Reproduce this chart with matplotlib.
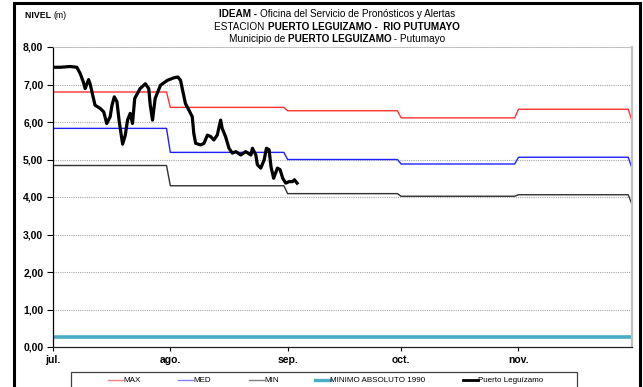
import matplotlib
matplotlib.use("Agg")
import matplotlib.pyplot as plt
from matplotlib.lines import Line2D
from matplotlib.patches import Rectangle

plt.rcParams['font.family'] = ['Liberation Sans', 'DejaVu Sans']

# ---- data ----
month_labels = ["jul.", "ago.", "sep.", "oct.", "nov."]
month_starts = [0, 31, 62, 92, 123, 153]          # days since 1 Jul (last = 1 Dec)
max_vals = [6.80, 6.39, 6.30, 6.11, 6.34, 6.03]
med_vals = [5.83, 5.19, 5.00, 4.88, 5.06, 4.77]
min_vals = [4.84, 4.30, 4.09, 4.02, 4.06, 3.80]
minimo_abs = 0.28

obs_days = [0, 2, 4.5, 6.3, 7.2, 8.0, 8.5, 9.4, 9.8, 10.3, 11.1, 12.5, 13.4, 14.2,
            15.1, 15.6, 16.2, 16.9, 17.5, 18.4, 19.1, 19.7, 20.4, 21.0, 21.6, 23.0,
            24.4, 25.3, 25.7, 26.3, 27.0, 28.4, 30.2, 32.0, 33.0, 33.7, 35.0, 35.9,
            36.8, 37.2, 37.7, 39.0, 39.9, 40.8, 41.7, 42.5, 43.4, 44.3, 44.7, 45.6,
            46.5, 47.4, 48.3, 49.6, 50.9, 52.3, 52.7, 53.6, 54.0, 54.9, 55.8, 56.4,
            57.1, 57.6, 58.3, 59.3, 60.0, 60.7, 61.5, 62.4, 63.3, 63.8, 64.5]
obs_level = [7.46, 7.46, 7.48, 7.46, 7.29, 7.07, 6.89, 7.13, 7.02, 6.80, 6.45, 6.36,
             6.27, 5.96, 6.14, 6.45, 6.67, 6.54, 6.01, 5.41, 5.65, 6.05, 6.23, 5.96,
             6.63, 6.89, 7.02, 6.89, 6.45, 6.05, 6.63, 6.98, 7.11, 7.18, 7.20, 7.11,
             6.49, 6.32, 6.14, 5.70, 5.43, 5.39, 5.43, 5.65, 5.61, 5.52, 5.65, 6.05,
             5.83, 5.61, 5.30, 5.17, 5.21, 5.12, 5.21, 5.12, 5.30, 5.12, 4.86, 4.77,
             4.99, 5.30, 5.26, 4.81, 4.50, 4.77, 4.73, 4.50, 4.37, 4.41, 4.41, 4.46,
             4.37]


def step_series(starts, vals):
    xs, ys = [], []
    for i in range(len(vals) - 1):
        xs += [starts[i], starts[i + 1] - 1]
        ys += [vals[i], vals[i]]
    xs.append(starts[-1])
    ys.append(vals[-1])
    return xs, ys


W, H = 643, 387
fig = plt.figure(figsize=(W / 100, H / 100), dpi=100)


def fx(px):
    return px / W


def fy(py):
    return 1 - py / H


ax = fig.add_axes([fx(53), fy(347), fx(632) - fx(53), fy(47) - fy(347)])

x, y = step_series(month_starts, max_vals)
ax.plot(x, y, color='#FF3030', lw=1.0)
x, y = step_series(month_starts, med_vals)
ax.plot(x, y, color='#2020FF', lw=1.0)
x, y = step_series(month_starts, min_vals)
ax.plot(x, y, color='#303030', lw=1.0)
ax.plot([month_starts[0], month_starts[-1]], [minimo_abs, minimo_abs], color='#4BACC6', lw=2.6)
ax.plot(obs_days, obs_level, color='black', lw=2.3, solid_joinstyle='round')

ax.set_xlim(month_starts[0], month_starts[-1])
ax.set_ylim(0, 8)
ax.set_yticks(range(0, 9))
ax.set_yticklabels([f"{v},00" for v in range(0, 9)], fontsize=7.5, fontweight='bold')
ax.set_xticks(month_starts[:5])
ax.set_xticklabels(month_labels, fontsize=7.5, fontweight='bold')
ax.tick_params(axis='y', length=4, width=0.8, pad=3)
ax.tick_params(axis='x', length=3, width=0.8, pad=3)
for v in range(1, 9):
    ax.axhline(v, color='#A8A8A8', lw=0.8, ls=(0, (1, 1)), zorder=0)
ax.spines['left'].set_color('black')
ax.spines['bottom'].set_color('#202020')
ax.spines['top'].set_color('#C0C0C0')
ax.spines['right'].set_color('#C0C0C0')
ax.spines['right'].set_linewidth(1.6)
ax.spines['top'].set_linewidth(0.6)
ax.spines['left'].set_linewidth(0.9)
ax.spines['bottom'].set_linewidth(0.9)

# outer frame
fig.patches.append(Rectangle((fx(14), fy(420)), fx(640) - fx(14), fy(3) - fy(420),
                             transform=fig.transFigure, fill=False, ec='black', lw=2.2))

# mixed-weight text helper
fig.canvas.draw()
renderer = fig.canvas.get_renderer()


def rich_text(parts, xc, yc, size):
    # parts: list of (text, weight)
    tmp = []
    total = 0
    for t, w in parts:
        tt = fig.text(0, 0, t, fontsize=size, fontweight=w)
        bb = tt.get_window_extent(renderer)
        tmp.append((tt, bb.width))
        total += bb.width
    start = xc - total / 2
    for tt, wdt in tmp:
        tt.set_position((fx(start), fy(yc)))
        tt.set_va('center')
        start += wdt


rich_text([("IDEAM - ", 'bold'), ("Oficina del Servicio de Pronósticos y Alertas", 'normal')], 337, 14, 7.2)
rich_text([("ESTACION ", 'normal'), ("PUERTO LEGUIZAMO -  RIO PUTUMAYO", 'bold')], 337, 27, 7.2)
rich_text([("Municipio de ", 'normal'), ("PUERTO LEGUIZAMO", 'bold'), (" - Putumayo", 'normal')], 337, 39, 7.2)

t1 = fig.text(fx(25), fy(15), "NIVEL ", fontsize=6.3, fontweight='bold', va='center')
bb = t1.get_window_extent(renderer)
fig.text(fx(25) + bb.width / W, fy(15), "(m)", fontsize=6.3, va='center')

# legend
fig.patches.append(Rectangle((fx(71), fy(400)), fx(577) - fx(71), fy(372) - fy(400),
                             transform=fig.transFigure, fill=False, ec='#404040', lw=0.9))
leg_items = [("MAX", '#FF8080', 1.0, 108), ("MED", '#8080FF', 1.0, 178),
             ("MIN", '#808080', 1.0, 249), ("MINIMO ABSOLUTO 1990", '#4BACC6', 2.4, 315),
             ("Puerto Leguízamo", 'black', 2.0, 463)]
for label, col, lw, x0 in leg_items:
    fig.lines.append(Line2D([fx(x0), fx(x0 + 15)], [fy(380), fy(380)],
                            transform=fig.transFigure, color=col, lw=lw))
    fig.text(fx(x0 + 15), fy(380), label, fontsize=5.8, va='center', ha='left')

fig.savefig("out.png", dpi=100)
